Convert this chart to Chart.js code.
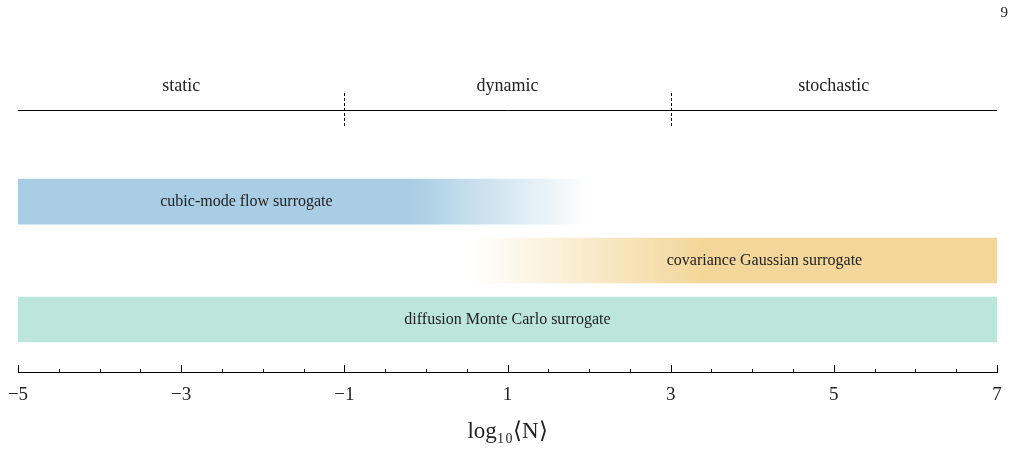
<!DOCTYPE html>
<html>
<head>
<meta charset="utf-8">
<script src="https://cdn.jsdelivr.net/npm/chart.js@4/dist/chart.umd.min.js"></script>
<style>
  body { margin: 0; background: #fff; }
  #wrap { position: relative; width: 1018px; height: 450px; }
  #page { position: absolute; right: 10px; top: 4px; font: 15px "Liberation Serif", serif; color: #222; }
</style>
</head>
<body>
<div id="wrap">
  <div id="page">9</div>
  <canvas id="chart" width="1018" height="450"></canvas>
</div>
<script>
// surrogate bands (row 3 = top)
const bandNames = ["cubic-mode flow surrogate", "covariance Gaussian surrogate", "diffusion Monte Carlo surrogate"];
const bandRows = [3, 2, 1];
const bandRanges = [[-5, 2], [0.55, 7], [-5, 7]];
const bandColors = ["168,205,228", "243,214,153", "189,230,218"];
// fade: [from solid value, to transparent value] or null
const bandFades = [[-0.2, 2], [3.4, 0.55], null];
const bandLabelX = [-2.2, 4.15, 1];

// regimes along the top
const regimeNames = ["static", "dynamic", "stochastic"];
const regimeCenters = [-3, 1, 5];
const regimeBounds = [-1, 3];
const regimeRow = 4.55;

const labelFont = '16px "Liberation Serif", serif';

function bandFill(ctx) {
  const chart = ctx.chart;
  const i = ctx.dataIndex;
  const c = bandColors[i];
  const fade = bandFades[i];
  if (!chart.chartArea || !fade) return `rgb(${c})`;
  const x = chart.scales.x;
  const g = chart.ctx.createLinearGradient(x.getPixelForValue(fade[0]), 0, x.getPixelForValue(fade[1]), 0);
  g.addColorStop(0, `rgba(${c},1)`);
  g.addColorStop(1, `rgba(${c},0)`);
  return g;
}

const overlay = {
  id: "overlay",
  afterDraw(chart) {
    const { ctx, scales: { x, y } } = chart;
    ctx.save();
    // minor/major ticks pointing up from axis line
    const yb = chart.chartArea.bottom;
    ctx.strokeStyle = "#000";
    ctx.lineWidth = 1;
    x.ticks.forEach(t => {
      const px = Math.round(x.getPixelForValue(t.value)) + 0.5;
      const major = Math.abs(t.value % 2) === 1;
      ctx.beginPath();
      ctx.moveTo(px, yb);
      ctx.lineTo(px, yb - (major ? 7 : 3));
      ctx.stroke();
    });
    // regime line
    const ry = Math.round(y.getPixelForValue(regimeRow)) + 0.5;
    ctx.beginPath();
    ctx.moveTo(x.getPixelForValue(-5), ry);
    ctx.lineTo(x.getPixelForValue(7), ry);
    ctx.stroke();
    ctx.setLineDash([3, 2]);
    regimeBounds.forEach(b => {
      const px = Math.round(x.getPixelForValue(b)) + 0.5;
      ctx.beginPath();
      ctx.moveTo(px, y.getPixelForValue(regimeRow + 0.29));
      ctx.lineTo(px, y.getPixelForValue(regimeRow - 0.29));
      ctx.stroke();
    });
    ctx.setLineDash([]);
    ctx.fillStyle = "#222";
    ctx.font = '18px "Liberation Serif", serif';
    ctx.textAlign = "center";
    ctx.textBaseline = "middle";
    regimeNames.forEach((n, i) => {
      ctx.fillText(n, x.getPixelForValue(regimeCenters[i]), y.getPixelForValue(regimeRow + 0.4));
    });
    // band labels
    ctx.font = labelFont;
    bandNames.forEach((n, i) => {
      ctx.fillText(n, x.getPixelForValue(bandLabelX[i]), y.getPixelForValue(bandRows[i]));
    });
    ctx.restore();
  }
};

new Chart(document.getElementById("chart"), {
  type: "bar",
  data: {
    datasets: [{
      data: bandNames.map((n, i) => ({ x: bandRanges[i], y: bandRows[i] })),
      backgroundColor: bandFill,
      borderWidth: 0,
      barThickness: 45
    }]
  },
  options: {
    indexAxis: "y",
    responsive: false,
    animation: false,
    layout: { padding: { left: 18, right: 21, top: 60, bottom: 0 } },
    plugins: { legend: { display: false }, tooltip: { enabled: false } },
    scales: {
      x: {
        type: "linear",
        min: -5,
        max: 7,
        afterFit: s => { s.height = 78; },
        ticks: {
          stepSize: 0.5,
          autoSkip: false,
          maxRotation: 0,
          padding: 4,
          color: "#222",
          font: { family: '"Liberation Serif", serif', size: 19 },
          callback: v => (Math.abs(v % 2) === 1 ? String(v).replace("-", "\u2212") : "")
        },
        grid: { display: false },
        border: { display: true, color: "#000", width: 1 },
        title: {
          display: true,
          text: "log\u2081\u2080\u27E8N\u27E9",
          color: "#222",
          padding: { top: 0 },
          font: { family: '"Liberation Serif", serif', size: 23 }
        }
      },
      y: {
        type: "linear",
        offset: false,
        min: 0.11,
        max: 5.4,
        afterDataLimits: s => { s.min = 0.11; s.max = 5.4; },
        display: false
      }
    }
  },
  plugins: [overlay]
});
</script>
</body>
</html>
